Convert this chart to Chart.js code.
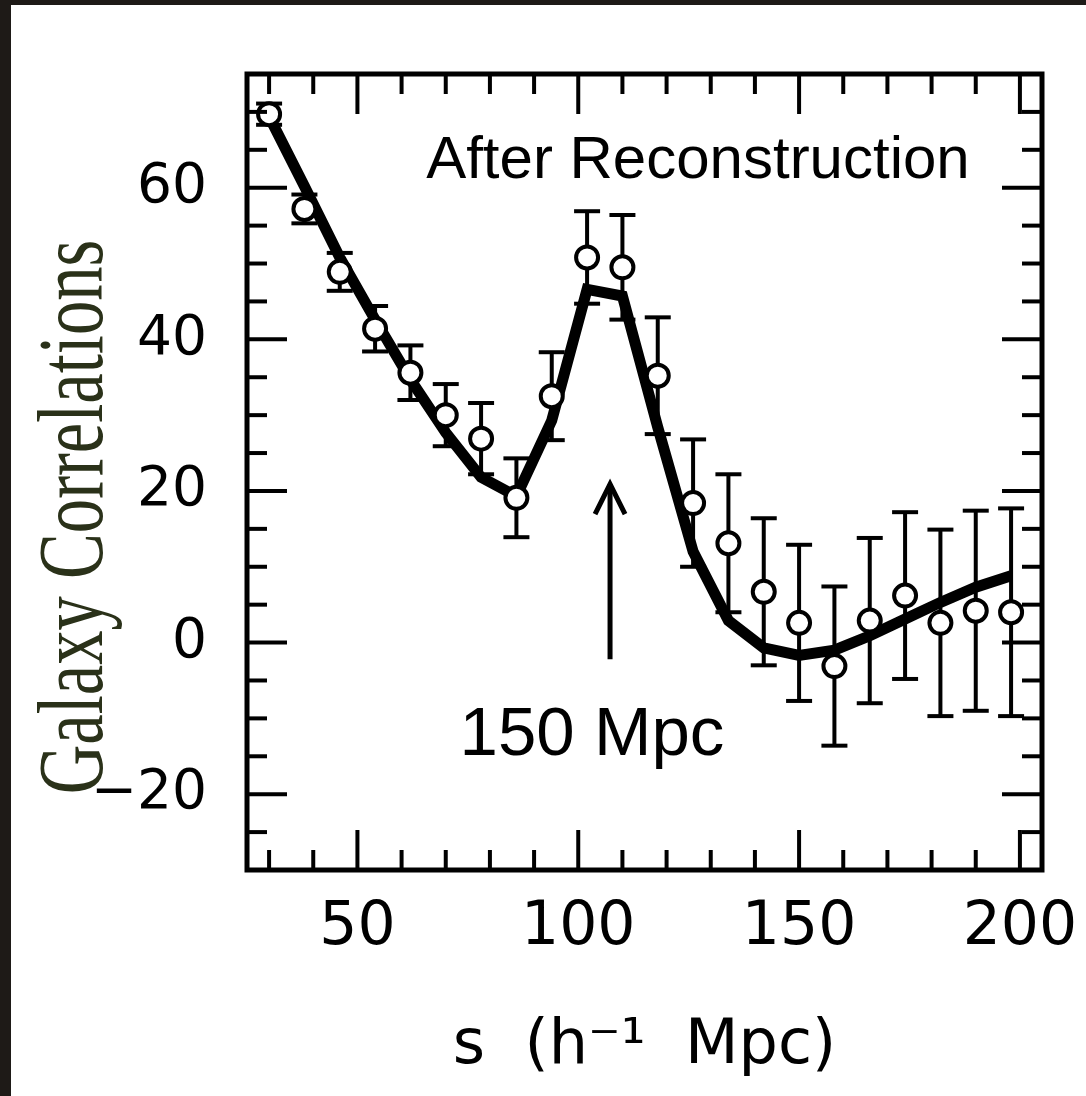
<!DOCTYPE html>
<html>
<head>
<meta charset="utf-8">
<title>Galaxy Correlations</title>
<style>
  body { margin: 0; background: #1e1a17; width: 1086px; height: 1096px; overflow: hidden; }
  #wrap { position: absolute; left: 11px; top: 5px; width: 1075px; height: 1091px; background: #fff; }
</style>
<script src="https://cdn.jsdelivr.net/npm/chart.js@4.4.0/dist/chart.umd.min.js"></script>
</head>
<body>
<div id="wrap"><canvas id="myChart"></canvas></div>
<script>
// separation s (h^-1 Mpc) of each bin
var sValues = [30, 38, 46, 54, 62, 70, 78, 86, 94, 102, 110, 118, 126, 134, 142, 150, 158, 166, 174, 182, 190, 198];
// measured correlation (after reconstruction) and its error
var corrValues = [69.7, 57.2, 48.9, 41.4, 35.6, 30.0, 26.9, 19.1, 32.5, 50.8, 49.5, 35.2, 18.4, 13.1, 6.7, 2.6, -3.1, 2.9, 6.2, 2.6, 4.2, 4.0];
var corrErrors = [1.4, 1.9, 2.5, 3.0, 3.6, 4.1, 4.7, 5.2, 5.8, 6.1, 6.9, 7.7, 8.4, 9.1, 9.7, 10.3, 10.5, 10.9, 11.0, 12.3, 13.2, 13.7];
// model curve
var modelValues = [69.4, 60.2, 50.8, 42.6, 34.7, 27.7, 21.8, 19.3, 29.3, 46.6, 45.7, 28.4, 12.0, 2.9, -0.7, -1.7, -1.0, 0.9, 3.1, 5.3, 7.3, 8.8];

var xTickValues = [50, 100, 150, 200];
var yTickValues = [-20, 0, 20, 40, 60];

var pointData = sValues.map(function (s, i) { return {x: s, y: corrValues[i]}; });
var modelData = sValues.map(function (s, i) { return {x: s, y: modelValues[i]}; });

function seg(ctx, x0, y0, x1, y1) {
  ctx.beginPath();
  ctx.moveTo(x0, y0);
  ctx.lineTo(x1, y1);
  ctx.stroke();
}

var plotDeco = {
  id: 'plotDeco',
  beforeDatasetsDraw: function (chart) {
    // error bars, drawn under the line and the circles
    var ctx = chart.ctx, xs = chart.scales.x, ys = chart.scales.y;
    ctx.save();
    ctx.strokeStyle = '#000';
    ctx.lineWidth = 4;
    for (var i = 0; i < sValues.length; i++) {
      var px = xs.getPixelForValue(sValues[i]);
      var top = ys.getPixelForValue(corrValues[i] + corrErrors[i]);
      var bot = ys.getPixelForValue(corrValues[i] - corrErrors[i]);
      seg(ctx, px, top, px, bot);
      seg(ctx, px - 13, top, px + 13, top);
      seg(ctx, px - 13, bot, px + 13, bot);
    }
    ctx.restore();
  },
  afterDraw: function (chart) {
    var ctx = chart.ctx, xs = chart.scales.x, ys = chart.scales.y;
    var a = chart.chartArea;
    ctx.save();
    ctx.strokeStyle = '#000';
    ctx.fillStyle = '#000';

    // ticks on all four sides, pointing in
    ctx.lineWidth = 4;
    for (var v = 30; v <= 200; v += 10) {
      var px = xs.getPixelForValue(v);
      var len = (v % 50 === 0) ? 40 : 20;
      seg(ctx, px, a.bottom, px, a.bottom - len);
      seg(ctx, px, a.top, px, a.top + len);
    }
    for (var w = -25; w <= 70; w += 5) {
      var py = ys.getPixelForValue(w);
      var l2 = (w % 20 === 0) ? 40 : 20;
      seg(ctx, a.left, py, a.left + l2, py);
      seg(ctx, a.right, py, a.right - l2, py);
    }
    ctx.lineWidth = 5;
    ctx.strokeRect(a.left, a.top, a.right - a.left, a.bottom - a.top);

    // annotations
    ctx.textAlign = 'center';
    ctx.textBaseline = 'alphabetic';
    ctx.font = '60px "Liberation Sans"';
    ctx.fillText('After Reconstruction', xs.getPixelForValue(127.1), ys.getPixelForValue(61.3));
    ctx.font = '69px "Liberation Sans"';
    ctx.fillText('150 Mpc', xs.getPixelForValue(103.1), ys.getPixelForValue(-14.8));

    var ax = xs.getPixelForValue(107.2);
    var ay0 = ys.getPixelForValue(-2.2), ay1 = ys.getPixelForValue(20.9);
    ctx.lineWidth = 5;
    seg(ctx, ax, ay0, ax, ay1);
    ctx.beginPath();
    ctx.moveTo(ax - 15, ay1 + 30);
    ctx.lineTo(ax, ay1);
    ctx.lineTo(ax + 15, ay1 + 30);
    ctx.stroke();

    // y axis title (condensed serif, dark green)
    ctx.translate(a.left - 145, (a.top + a.bottom) / 2 + 45);
    ctx.rotate(-Math.PI / 2);
    ctx.scale(0.73, 1);
    ctx.font = '94px "Liberation Serif"';
    ctx.fillStyle = '#2a3119';
    ctx.fillText('Galaxy Correlations', 0, 0);
    ctx.restore();
  }
};

var ctx = document.getElementById('myChart').getContext('2d');
var chart = new Chart(ctx, {
  type: 'line',
  data: {
    datasets: [{
      label: 'data',
      data: pointData,
      showLine: false,
      pointRadius: 11,
      pointHoverRadius: 11,
      pointBorderWidth: 4,
      pointBackgroundColor: '#fff',
      pointBorderColor: '#000',
      order: 0
    }, {
      label: 'model',
      data: modelData,
      borderColor: '#000',
      borderWidth: 11,
      borderJoinStyle: 'miter',
      pointRadius: 0,
      fill: false,
      tension: 0,
      order: 1
    }]
  },
  options: {
    responsive: true,
    maintainAspectRatio: false,
    animation: false,
    events: [],
    layout: { padding: { left: 0, top: 69, right: 44, bottom: 0 } },
    plugins: { legend: { display: false }, tooltip: { enabled: false } },
    scales: {
      x: {
        type: 'linear',
        min: 25,
        max: 205,
        grid: { display: false, drawTicks: false },
        border: { display: false },
        afterBuildTicks: function (scale) {
          scale.ticks = xTickValues.map(function (v) { return {value: v}; });
        },
        afterFit: function (scale) {
          scale.height = 226;
          scale.paddingLeft = 0;
          scale.paddingRight = 0;
        },
        ticks: {
          autoSkip: false,
          maxRotation: 0,
          padding: 22,
          color: '#000',
          font: { family: 'DejaVu Sans', size: 60 }
        },
        title: {
          display: true,
          text: 's  (h\u207B\u00B9  Mpc)',
          color: '#000',
          font: { family: 'DejaVu Sans', size: 62 },
          padding: { top: 0, bottom: 12 }
        }
      },
      y: {
        type: 'linear',
        min: -30,
        max: 75,
        grid: { display: false, drawTicks: false },
        border: { display: false },
        afterBuildTicks: function (scale) {
          scale.ticks = yTickValues.map(function (v) { return {value: v}; });
        },
        afterFit: function (scale) {
          scale.width = 236;
          scale.paddingTop = 0;
          scale.paddingBottom = 0;
        },
        ticks: {
          autoSkip: false,
          padding: 40,
          color: '#000',
          font: { family: 'DejaVu Sans', size: 55 },
          callback: function (value) {
            return value < 0 ? '\u2212' + Math.abs(value) : String(value);
          }
        }
      }
    }
  },
  plugins: [plotDeco]
});
</script>
</body>
</html>
